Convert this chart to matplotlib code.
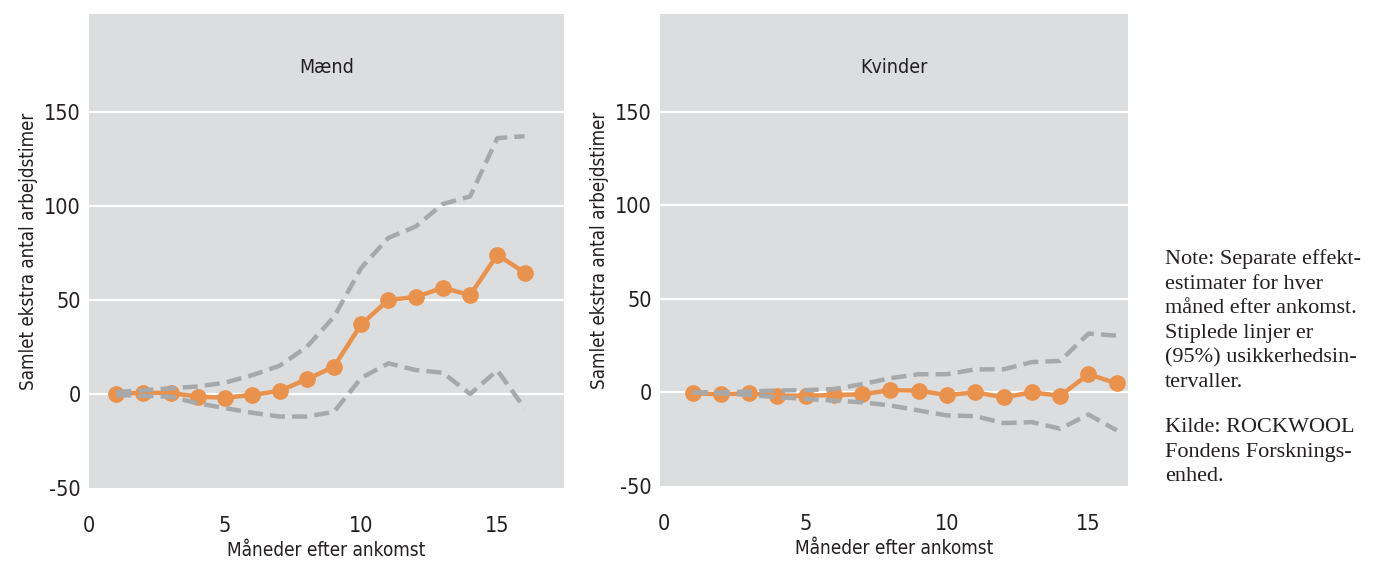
import matplotlib
matplotlib.use("Agg")
import matplotlib.pyplot as plt
import numpy as np

plt.rcParams["axes.unicode_minus"] = False

# months after arrival
months = list(range(1, 17))

# Mænd (men)
men_est = [0, 0.7, 0.5, -1.4, -2, -0.5, 1.6, 7.8, 14.5, 37, 50, 51.5, 56.5, 52.5, 74, 64.5]
men_hi = [1, 2, 3, 4, 6, 10, 15, 25, 41, 67, 83, 89, 101, 105, 136, 137]
men_lo = [-0.5, -1, -1.5, -5, -7.5, -10, -12, -12, -9.5, 8.5, 16.3, 12.7, 11.3, 0, 12.5, -7.5]

# Kvinder (women)
women_est = [-0.5, -1, -0.5, -1.8, -1.8, -1.4, -1, 1.2, 0.9, -1.4, 0, -2.6, 0, -1.8, 9.7, 4.8]
women_hi = [0, 0, 0.5, 1, 1.2, 1.8, 4.4, 7.6, 9.7, 9.7, 12.3, 12.3, 16.2, 16.8, 31.4, 30.3]
women_lo = [0, -0.5, -1.4, -2.6, -3.5, -4.4, -5.3, -7, -9.7, -12.3, -12.7, -16.4, -15.9, -19.4, -11.8, -20.3]

yticks = [-50, 0, 50, 100, 150]
xticks = [0, 5, 10, 15]

orange = "#E8924E"
grey = "#A7A8AA"
bg = "#DCDDDF"
txt = "#231F20"

sans = ["DejaVu Sans"]
serif = ["Liberation Serif", "DejaVu Serif"]
cond = "condensed"

fig = plt.figure(figsize=(13.75, 5.61), dpi=100)

panels = [
    ([0.0647, 0.1301, 0.3455, 0.845], "Mænd", men_est, men_hi, men_lo, (0, 17.45)),
    ([0.4800, 0.1337, 0.3404, 0.841], "Kvinder", women_est, women_hi, women_lo, (-0.15, 16.4)),
]

for pos, title, est, hi, lo, xl in panels:
    ax = fig.add_axes(pos)
    ax.set_facecolor(bg)
    for s in ax.spines.values():
        s.set_visible(False)
    ax.set_xlim(*xl)
    ax.set_ylim(-50, 202)
    for y in yticks[1:]:
        ax.axhline(y, color="white", lw=1.6, zorder=1)

    ax.plot(months, est, color=orange, lw=3.2, marker="o", markersize=11,
            zorder=3, solid_capstyle="round")
    for band in (hi, lo):
        ln, = ax.plot(months, band, color=grey, lw=3.2, zorder=4)
        ln.set_dashes((3.4, 1.6))

    ax.set_yticks(yticks)
    ax.set_xticks(xticks)
    ax.tick_params(length=0, labelsize=15.5, colors=txt)
    ax.tick_params(axis="y", pad=6)
    ax.tick_params(axis="x", pad=20)
    for lab in ax.get_xticklabels() + ax.get_yticklabels():
        lab.set_family(sans)
        lab.set_stretch(cond)
    ax.set_xlabel("Måneder efter ankomst", fontsize=13.6, color=txt, family=sans,
                  stretch=cond, labelpad=4)
    ax.set_ylabel("Samlet ekstra antal arbejdstimer", fontsize=13.4, color=txt, family=sans,
                  stretch=cond, labelpad=4)
    ax.text(0.5, 0.888, title, transform=ax.transAxes, ha="center", va="center",
            fontsize=14, color=txt, family=sans, stretch=cond)

note = ("Note: Separate effekt-\nestimater for hver\nmåned efter ankomst.\n"
        "Stiplede linjer er\n(95%) usikkerhedsin-\ntervaller.")
kilde = "Kilde: ROCKWOOL\nFondens Forsknings-\nenhed."
fig.text(1165 / 1375, 1 - 249 / 561, note, ha="left", va="top", fontsize=16,
         color=txt, family=serif, linespacing=1.4)
fig.text(1165 / 1375, 1 - 418 / 561, kilde, ha="left", va="top", fontsize=16,
         color=txt, family=serif, linespacing=1.4)

fig.savefig("out.png", dpi=100)
